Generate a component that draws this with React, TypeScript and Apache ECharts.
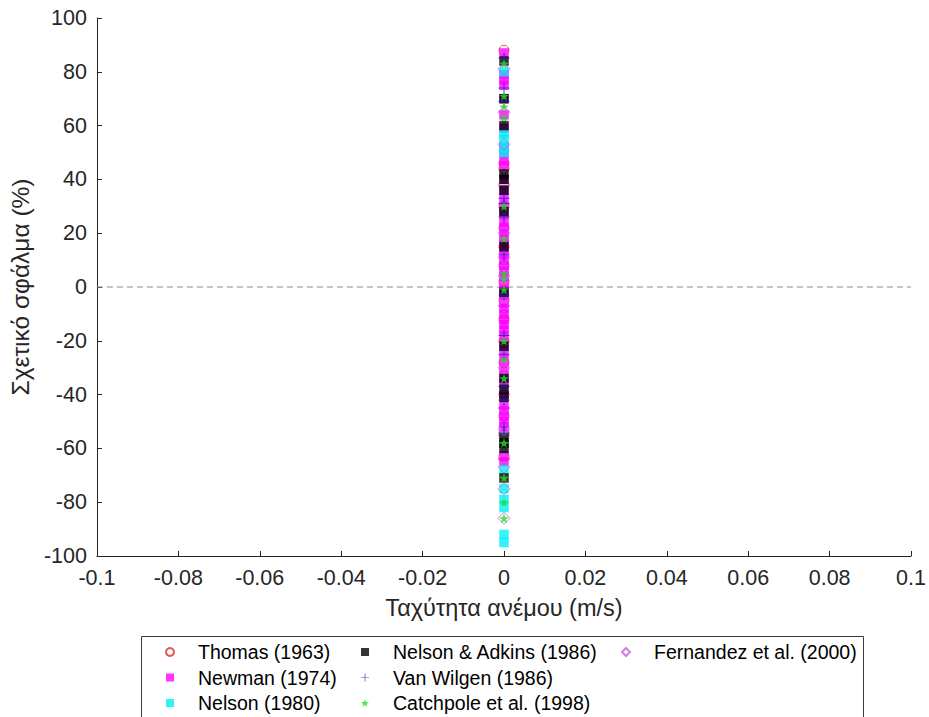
import React, { useEffect, useRef } from "react";
import * as echarts from "echarts";

// Wind speed of every run (m/s) and relative error (%) per model
const windSpeed = 0;

const thomas1963 = [88, 46, 44, 38, 30, 22, 15, 8, 2, -5, -12, -20, -28, -40, -48, -55, -63];
const newman1974 = [
  87, 79, 77, 75, 70, 64, 59, 52, 50, 47, 45, 40, 36, 33, 30, 27, 24, 22, 20, 18, 16, 14, 12,
  10, 8, 6, 4, 1, -1, -3, -6, -8, -10, -12, -14, -16, -18, -21, -24, -27, -30, -33, -36, -40,
  -44, -46, -48, -50, -52, -63, -65,
];
const nelson1980 = [80, 57, 55, 52, 50, -68, -75, -79, -82, -92, -95];
const nelsonAdkins1986 = [84, 70, 60, 42, 40, 36, 28, 15, -2, -22, -34, -38, -41, -56, -58, -60, -71];
const vanWilgen1986 = [85, 74, 69, 33, 31, 26, 12, -3, -18, -25, -37, -42, -52, -54];
const catchpole1998 = [83, 71, 67, 63, 30, 18, 5, 3, -1, -20, -27, -34, -58, -71, -80, -86];
const fernandez2000 = [81, 65, 53, 20, 11, 4, -7, -30, -45, -53, -64, -67, -75, -86];

const xTicks = { min: -0.1, max: 0.1, interval: 0.02 };
const yTicks = { min: -100, max: 100, interval: 20 };

const FONT = "Liberation Sans, Arial, sans-serif";
const INK = "#262626";

const STAR =
  "path://M5,0L6.18,3.38L9.76,3.45L6.9,5.62L7.94,9.05L5,7L2.06,9.05L3.1,5.62L0.24,3.45L3.82,3.38Z";
const PLUS = "path://M0,4.55H10V5.45H0ZM4.55,0H5.45V10H4.55Z";

type Spec = {
  name: string;
  values: number[];
  symbol: string;
  size: number;
  color: string;
  hollow?: boolean;
};

const specs: Spec[] = [
  { name: "Thomas (1963)", values: thomas1963, symbol: "circle", size: 10, color: "#e02a2a", hollow: true },
  { name: "Newman (1974)", values: newman1974, symbol: "rect", size: 9.5, color: "#ff00ff" },
  { name: "Nelson (1980)", values: nelson1980, symbol: "rect", size: 9.5, color: "#00f0f8" },
  { name: "Nelson & Adkins (1986)", values: nelsonAdkins1986, symbol: "rect", size: 9.5, color: "#000000" },
  { name: "Van Wilgen (1986)", values: vanWilgen1986, symbol: PLUS, size: 11, color: "#1c1cc8" },
  { name: "Catchpole et al. (1998)", values: catchpole1998, symbol: STAR, size: 9.5, color: "#1ee01e" },
  { name: "Fernandez et al. (2000)", values: fernandez2000, symbol: "diamond", size: 12, color: "#c45ee0", hollow: true },
];

// icon centre x of each legend column
const legendColumns = [
  { center: 169, names: [specs[0].name, specs[1].name, specs[2].name] },
  { center: 365, names: [specs[3].name, specs[4].name, specs[5].name] },
  { center: 625, names: [specs[6].name] },
];

export default function App() {
  const ref = useRef<HTMLDivElement>(null);

  useEffect(() => {
    if (!ref.current) return;
    const chart = echarts.init(ref.current, undefined, { renderer: "svg" });

    const scatter = specs.map((s) => ({
      type: "scatter",
      name: s.name,
      data: s.values.map((v) => [windSpeed, v]),
      symbol: s.symbol,
      symbolSize: s.size,
      itemStyle: s.hollow
        ? { color: "transparent", borderColor: s.color, borderWidth: 1 }
        : { color: s.color },
      emphasis: { disabled: true },
    }));

    const zeroLine = {
      type: "line",
      name: "zero",
      data: [
        [xTicks.min, 0],
        [xTicks.max, 0],
      ],
      symbol: "none",
      lineStyle: { color: "#8a8a8a", width: 1, type: [6, 4] },
      silent: true,
      z: 1,
    };

    const iconSize = 8;

    chart.setOption({
      animation: false,
      backgroundColor: "#ffffff",
      textStyle: { fontFamily: FONT },
      grid: { left: 92, right: 16, top: 18, bottom: 161, containLabel: false },
      xAxis: {
        type: "value",
        min: xTicks.min,
        max: xTicks.max,
        interval: xTicks.interval,
        name: "Ταχύτητα ανέμου (m/s)",
        nameLocation: "middle",
        nameGap: 40,
        nameTextStyle: { fontSize: 23.5, color: INK, fontFamily: FONT },
        axisLine: { onZero: false, lineStyle: { color: INK, width: 1 } },
        axisTick: { inside: true, length: 5, lineStyle: { color: INK } },
        axisLabel: {
          fontSize: 21.5,
          color: INK,
          fontFamily: FONT,
          margin: 11,
          formatter: (v: number) => String(Number(v.toFixed(2))),
        },
        splitLine: { show: false },
      },
      yAxis: {
        type: "value",
        min: yTicks.min,
        max: yTicks.max,
        interval: yTicks.interval,
        name: "Σχετικό σφάλμα (%)",
        nameLocation: "middle",
        nameRotate: 90,
        nameGap: 57,
        nameTextStyle: { fontSize: 24.5, color: INK, fontFamily: FONT },
        axisLine: { onZero: false, lineStyle: { color: INK, width: 1 } },
        axisTick: { inside: true, length: 5, lineStyle: { color: INK } },
        axisLabel: { fontSize: 21.5, color: INK, fontFamily: FONT, margin: 10 },
        splitLine: { show: false },
      },
      legend: legendColumns.map((c) => ({
        orient: "vertical",
        left: c.center - iconSize / 2,
        top: 642,
        padding: 0,
        itemGap: 5.5,
        itemWidth: iconSize,
        itemHeight: iconSize,
        selectedMode: false,
        data: c.names,
        textStyle: {
          fontSize: 19.5,
          lineHeight: 20,
          color: "#000000",
          fontFamily: FONT,
          padding: [0, 0, 0, 19],
        },
      })),
      graphic: [
        {
          type: "rect",
          shape: { x: 141.5, y: 636.5, width: 722, height: 100 },
          style: { fill: "none", stroke: "#3a3a3a", lineWidth: 1 },
          silent: true,
          z: 0,
        },
      ],
      series: [zeroLine, ...scatter],
    });

    return () => chart.dispose();
  }, []);

  return (
    <div
      ref={ref}
      style={{ position: "fixed", left: 0, top: 0, width: 929, height: 717 }}
    />
  );
}
